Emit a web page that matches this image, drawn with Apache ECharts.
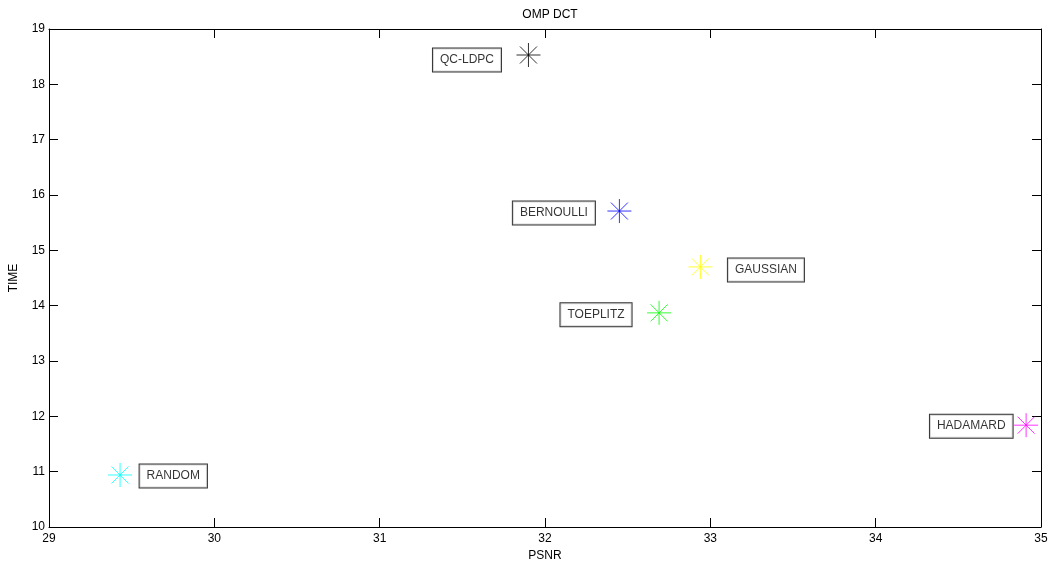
<!DOCTYPE html>
<html>
<head>
<meta charset="utf-8">
<script src="https://cdn.jsdelivr.net/npm/echarts@6/dist/echarts.min.js"></script>
<style>html,body{margin:0;padding:0;background:#fff}#c{width:1051px;height:562px}</style>
</head>
<body>
<div id="c"></div>
<script>
var names = ['QC-LDPC', 'BERNOULLI', 'GAUSSIAN', 'TOEPLITZ', 'HADAMARD', 'RANDOM'];
var psnr = [31.90, 32.45, 32.94, 32.69, 34.91, 29.43];
var time = [18.53, 15.71, 14.70, 13.87, 11.84, 10.94];
var colors = ['#000000', '#0000ff', '#ffff00', '#00ff00', '#ff00ff', '#00ffff'];
var labelSide = ['left', 'left', 'right', 'left', 'left', 'right'];
var labelGap = [15, 12, 15, 15, 1, 7];
var labelDy = [5, 2, 3, 2, 1, 1];
var xTicks = [29, 30, 31, 32, 33, 34, 35];
var yTicks = [10, 11, 12, 13, 14, 15, 16, 17, 18, 19];

var star = 'path://M0,-12L0,12M-12,0L12,0M-8.5,-8.5L8.5,8.5M-8.5,8.5L8.5,-8.5';
var font = 'Liberation Sans, Arial, sans-serif';

var data = names.map(function (n, i) {
  return {
    name: n,
    value: [psnr[i], time[i]],
    itemStyle: { color: 'rgba(0,0,0,0)', borderColor: colors[i], borderWidth: 1 },
    label: { position: labelSide[i], distance: labelGap[i], offset: [0, labelDy[i]] }
  };
});

function axisCommon(showLabel) {
  return {
    axisLine: { onZero: false, lineStyle: { color: '#000', width: 1 } },
    axisTick: { inside: true, length: 9, lineStyle: { color: '#000' } },
    axisLabel: { show: showLabel, color: '#000', fontSize: 12, fontFamily: font },
    splitLine: { show: false }
  };
}

var chart = echarts.init(document.getElementById('c'), null, { renderer: 'canvas' });
var xa = Object.assign(axisCommon(true), {
  type: 'value', min: xTicks[0], max: xTicks[xTicks.length - 1], interval: 1,
  name: 'PSNR', nameLocation: 'middle', nameGap: 20,
  nameTextStyle: { color: '#000', fontSize: 12, fontFamily: font }
});
xa.axisLabel.margin = 6;
var xa2 = Object.assign(axisCommon(false), {
  type: 'value', position: 'top', min: xTicks[0], max: xTicks[xTicks.length - 1], interval: 1
});
var ya = Object.assign(axisCommon(true), {
  type: 'value', min: yTicks[0], max: yTicks[yTicks.length - 1], interval: 1,
  name: 'TIME', nameLocation: 'middle', nameGap: 29, nameRotate: 90,
  nameTextStyle: { color: '#000', fontSize: 12, fontFamily: font }
});
ya.axisLabel.margin = 4;
var ya2 = Object.assign(axisCommon(false), {
  type: 'value', position: 'right', min: yTicks[0], max: yTicks[yTicks.length - 1], interval: 1
});

chart.setOption({
  animation: false,
  backgroundColor: '#fff',
  title: {
    text: 'OMP DCT', left: 545, top: 4, textAlign: 'center',
    textStyle: { color: '#000', fontSize: 12, fontWeight: 'normal', fontFamily: font }
  },
  grid: { left: 49, right: 10, top: 29, bottom: 35, containLabel: false, outerBoundsMode: 'none' },
  xAxis: [xa, xa2],
  yAxis: [ya, ya2],
  series: [{
    type: 'scatter',
    xAxisIndex: 0, yAxisIndex: 0,
    symbol: star,
    symbolSize: 24,
    data: data,
    label: {
      show: true,
      formatter: '{b}',
      color: '#000',
      fontSize: 12,
      fontFamily: font,
      backgroundColor: '#fff',
      borderColor: '#000',
      borderWidth: 1,
      padding: [6, 7, 5, 7]
    }
  }]
});
</script>
</body>
</html>
